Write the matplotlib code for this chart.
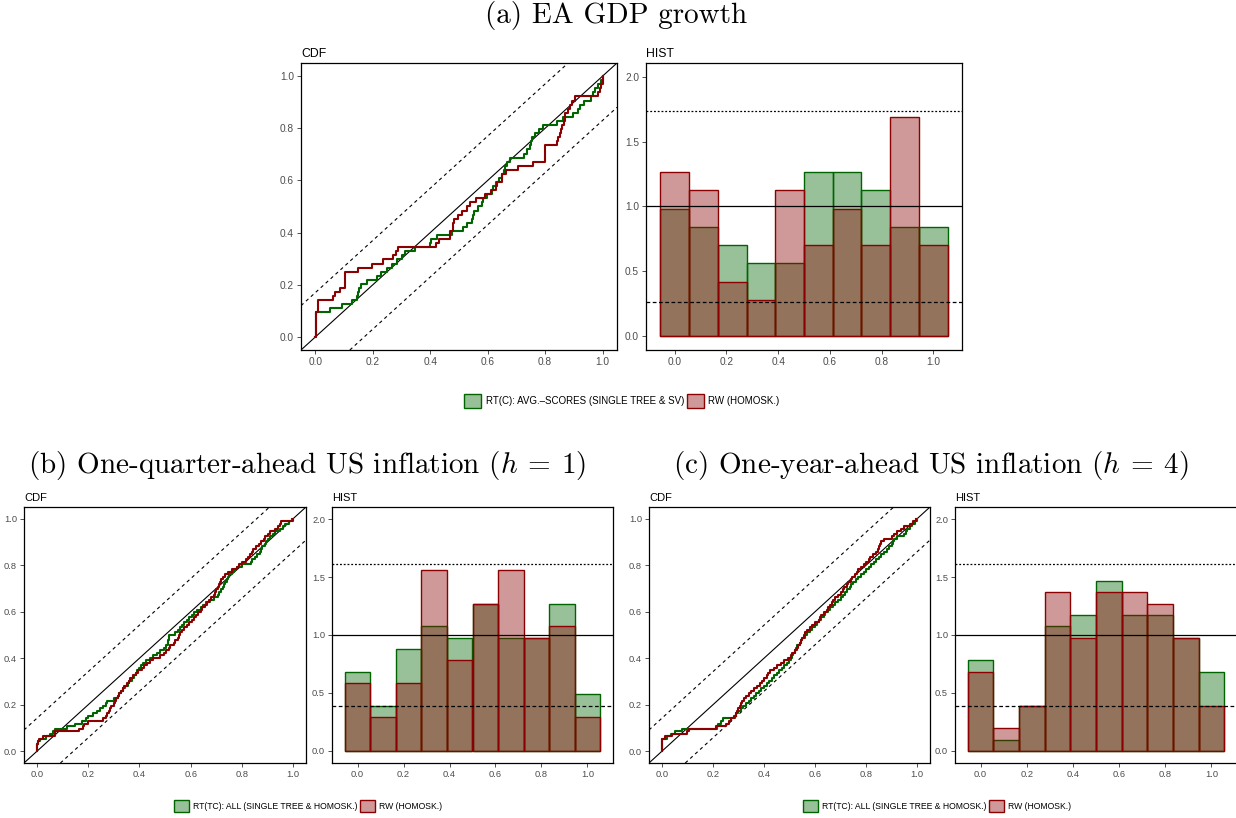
import numpy as np
import matplotlib
matplotlib.use("Agg")
import matplotlib.pyplot as plt
from matplotlib.patches import Patch
from matplotlib.colors import to_rgba

plt.rcParams['font.family'] = ['Liberation Sans', 'DejaVu Sans']
plt.rcParams['mathtext.fontset'] = 'cm'

# PIT values (hist bins agree with them)
ea_rt = [0.002, 0.002, 0.002, 0.002, 0.002, 0.002, 0.052,
         0.093, 0.127, 0.145, 0.148, 0.152, 0.16,
         0.18, 0.214, 0.23, 0.25, 0.266,
         0.283, 0.3, 0.312, 0.347,
         0.399, 0.402, 0.422, 0.475,
         0.515, 0.527, 0.544, 0.55, 0.552, 0.567, 0.58, 0.585, 0.596,
         0.615, 0.62, 0.63, 0.64, 0.648, 0.655, 0.66, 0.667, 0.678,
         0.725, 0.735, 0.746, 0.752, 0.755, 0.764, 0.78, 0.793,
         0.84, 0.862, 0.897, 0.915, 0.922, 0.935,
         0.96, 0.967, 0.975, 0.985, 0.995, 1.0]
ea_rw = [0.001, 0.001, 0.001, 0.001, 0.001, 0.001, 0.008, 0.008, 0.008,
         0.061, 0.07, 0.087, 0.104, 0.104, 0.104, 0.104, 0.147,
         0.197, 0.237, 0.27,
         0.282, 0.288,
         0.42, 0.43, 0.469, 0.47, 0.478, 0.48, 0.482, 0.497,
         0.51, 0.527, 0.54, 0.56, 0.59,
         0.613, 0.63, 0.632, 0.648, 0.65, 0.665, 0.705,
         0.758, 0.8, 0.8, 0.8, 0.8,
         0.84, 0.845, 0.85, 0.855, 0.86, 0.865, 0.868, 0.87, 0.88, 0.885, 0.895, 0.905,
         0.985, 0.99, 0.995, 1.0, 1.0]

us1_rt = [0.001, 0.001, 0.001, 0.005, 0.012, 0.035, 0.05,
          0.065, 0.072, 0.118, 0.15,
          0.175, 0.19, 0.2, 0.22, 0.235, 0.247, 0.26, 0.268, 0.275,
          0.3, 0.318, 0.322, 0.328, 0.335, 0.345, 0.355, 0.36, 0.37, 0.378, 0.385,
          0.392, 0.4, 0.405, 0.415, 0.425, 0.44, 0.455, 0.47, 0.48, 0.495,
          0.505, 0.51, 0.512, 0.514, 0.516, 0.54, 0.55, 0.56, 0.565, 0.575, 0.585, 0.595, 0.605,
          0.615, 0.625, 0.64, 0.65, 0.66, 0.675, 0.69, 0.705, 0.712, 0.718,
          0.725, 0.73, 0.735, 0.74, 0.745, 0.75, 0.76, 0.77, 0.78, 0.8,
          0.835, 0.84, 0.85, 0.86, 0.87, 0.875, 0.88, 0.89, 0.895, 0.9, 0.91, 0.92, 0.93,
          0.95, 0.96, 0.97, 0.985, 0.995]
us1_rw = [0.001, 0.001, 0.001, 0.005, 0.01, 0.025,
          0.07, 0.072, 0.163,
          0.18, 0.185, 0.2, 0.26, 0.27, 0.275,
          0.28, 0.285, 0.29, 0.3, 0.305, 0.31, 0.318, 0.322, 0.33, 0.335, 0.34, 0.35, 0.36, 0.365, 0.375, 0.385,
          0.395, 0.41, 0.42, 0.43, 0.44, 0.455, 0.48, 0.498,
          0.505, 0.515, 0.52, 0.535, 0.54, 0.55, 0.555, 0.56, 0.565, 0.575, 0.585, 0.595, 0.605,
          0.615, 0.622, 0.63, 0.64, 0.645, 0.655, 0.664, 0.67, 0.68, 0.69, 0.695, 0.7, 0.705, 0.71, 0.714, 0.72,
          0.725, 0.735, 0.745, 0.76, 0.78, 0.79, 0.8, 0.815, 0.822, 0.83,
          0.84, 0.845, 0.855, 0.865, 0.875, 0.885, 0.89, 0.9, 0.91, 0.93, 0.94,
          0.95, 0.952, 0.998]

us4_rt = [0.001, 0.001, 0.001, 0.001, 0.001, 0.02, 0.035, 0.05,
          0.08,
          0.215, 0.222, 0.23, 0.24,
          0.285, 0.292, 0.3, 0.31, 0.318, 0.33, 0.34, 0.35, 0.36, 0.37, 0.38,
          0.39, 0.4, 0.41, 0.42, 0.43, 0.44, 0.45, 0.46, 0.47, 0.48, 0.49, 0.498,
          0.505, 0.51, 0.515, 0.52, 0.525, 0.53, 0.54, 0.545, 0.55, 0.56, 0.57, 0.58, 0.59, 0.6, 0.607,
          0.615, 0.625, 0.635, 0.64, 0.65, 0.66, 0.67, 0.68, 0.69, 0.7, 0.71, 0.718,
          0.725, 0.735, 0.74, 0.75, 0.76, 0.77, 0.78, 0.79, 0.8, 0.81, 0.82, 0.83,
          0.84, 0.85, 0.86, 0.87, 0.88, 0.89, 0.9, 0.905, 0.91, 0.92,
          0.95, 0.955, 0.96, 0.97, 0.98, 0.99, 1.0]
us4_rw = [0.001, 0.001, 0.001, 0.001, 0.001, 0.014, 0.04,
          0.1, 0.105,
          0.212, 0.25, 0.262, 0.272,
          0.282, 0.29, 0.295, 0.3, 0.305, 0.31, 0.315, 0.32, 0.33, 0.34, 0.35, 0.36, 0.372, 0.385,
          0.392, 0.4, 0.41, 0.415, 0.425, 0.44, 0.45, 0.465, 0.48, 0.495,
          0.505, 0.51, 0.52, 0.53, 0.535, 0.54, 0.545, 0.55, 0.555, 0.56, 0.57, 0.58, 0.59, 0.6,
          0.615, 0.62, 0.625, 0.635, 0.645, 0.65, 0.66, 0.665, 0.67, 0.68, 0.69, 0.7, 0.71, 0.715,
          0.725, 0.73, 0.74, 0.745, 0.755, 0.765, 0.77, 0.78, 0.79, 0.8, 0.81, 0.815, 0.825,
          0.84, 0.845, 0.85, 0.855, 0.86, 0.87, 0.9, 0.91, 0.92, 0.935,
          0.95, 0.97, 0.985, 0.995]

# KS band half-width for the CDF, lower/upper band for the histogram
ea_ks = 0.17
ea_hist_band = [0.263, 1.736]
us_ks = 0.142
us_hist_band = [0.386, 1.611]

titles = ["(a) EA GDP growth",
          r"(b) One-quarter-ahead US inflation ($h\:=\:1$)",
          r"(c) One-year-ahead US inflation ($h\:=\:4$)"]
label_rt_ea = "RT(C): AVG.\u2013SCORES (SINGLE TREE & SV)"
label_rt_us = "RT(TC): ALL (SINGLE TREE & HOMOSK.)"
label_rw = "RW (HOMOSK.)"

GREEN = "darkgreen"
RED = "darkred"
W, H = 1236, 818


def px_axes(fig, left, top, right, bottom):
    return fig.add_axes([left / W, 1 - bottom / H, (right - left) / W, (bottom - top) / H])


def style(ax, fs_tick, fs_title, title):
    for s in ax.spines.values():
        s.set_linewidth(0.9)
        s.set_color("black")
    ax.tick_params(length=3, width=0.6, color="#333333", labelcolor="#4d4d4d",
                   labelsize=fs_tick, pad=2)
    ax.set_title(title, loc="left", fontsize=fs_title, pad=4)


def plot_cdf(ax, rt, rw, ks, fs_tick, fs_title):
    ax.axline((0, 0), slope=1, color="black", lw=0.8)
    ax.axline((0, ks), slope=1, color="black", lw=0.8, ls=(0, (3, 3)))
    ax.axline((0, -ks), slope=1, color="black", lw=0.8, ls=(0, (3, 3)))
    for vals, col in [(rt, GREEN), (rw, RED)]:
        v = np.sort(vals)
        x = np.concatenate([[0], v])
        y = np.arange(len(v) + 1) / len(v)
        ax.plot(x, y, drawstyle="steps-post", color=col, lw=1.5)
    ax.set_xlim(-0.05, 1.05)
    ax.set_ylim(-0.05, 1.05)
    ticks = [0, 0.2, 0.4, 0.6, 0.8, 1.0]
    ax.set_xticks(ticks)
    ax.set_yticks(ticks)
    ax.set_xticklabels(["%.1f" % t for t in ticks])
    ax.set_yticklabels(["%.1f" % t for t in ticks])
    style(ax, fs_tick, fs_title, "CDF")


def plot_hist(ax, rt, rw, band, fs_tick, fs_title):
    edges = (np.arange(11) - 0.5) / 9
    ax.hist(rt, bins=edges, density=True, facecolor=to_rgba(GREEN, 0.4),
            edgecolor=GREEN, linewidth=1.0)
    ax.hist(rw, bins=edges, density=True, facecolor=to_rgba(RED, 0.4),
            edgecolor=RED, linewidth=1.0)
    ax.axhline(1.0, color="black", lw=0.9)
    ax.axhline(band[1], color="black", lw=0.9, ls=(0, (1.5, 1.5)))
    ax.axhline(band[0], color="black", lw=0.9, ls=(0, (3, 2)))
    ax.set_xlim(-1 / 9, 1 + 1 / 9)
    ax.set_ylim(-0.105, 2.105)
    xt = [0, 0.2, 0.4, 0.6, 0.8, 1.0]
    yt = [0, 0.5, 1.0, 1.5, 2.0]
    ax.set_xticks(xt)
    ax.set_yticks(yt)
    ax.set_xticklabels(["%.1f" % t for t in xt])
    ax.set_yticklabels(["%.1f" % t for t in yt])
    style(ax, fs_tick, fs_title, "HIST")


def add_legend(fig, rt_label, x, y, fs):
    handles = [Patch(facecolor=to_rgba(GREEN, 0.4), edgecolor=GREEN, lw=1.0, label=rt_label),
               Patch(facecolor=to_rgba(RED, 0.4), edgecolor=RED, lw=1.0, label=label_rw)]
    fig.legend(handles=handles, loc="center", bbox_to_anchor=(x / W, 1 - y / H), ncol=2,
               frameon=False, fontsize=fs, handlelength=1.7, handleheight=1.8,
               handletextpad=0.5, columnspacing=0.3, borderpad=0)


fig = plt.figure(figsize=(W / 100, H / 100), dpi=100)

ax = px_axes(fig, 301, 63, 617, 350)
plot_cdf(ax, ea_rt, ea_rw, ea_ks, 7.3, 8.8)
ax = px_axes(fig, 646, 63, 962, 350)
plot_hist(ax, ea_rt, ea_rw, ea_hist_band, 7.3, 8.8)
add_legend(fig, label_rt_ea, 622, 401, 7)

ax = px_axes(fig, 24, 507, 306, 763)
plot_cdf(ax, us1_rt, us1_rw, us_ks, 6.7, 8)
ax = px_axes(fig, 332, 507, 613, 763)
plot_hist(ax, us1_rt, us1_rw, us_hist_band, 6.7, 8)
add_legend(fig, label_rt_us, 308, 806, 6.2)

ax = px_axes(fig, 649, 507, 930, 763)
plot_cdf(ax, us4_rt, us4_rw, us_ks, 6.7, 8)
ax = px_axes(fig, 955, 507, 1237, 763)
plot_hist(ax, us4_rt, us4_rw, us_hist_band, 6.7, 8)
add_legend(fig, label_rt_us, 937, 806, 6.2)

tfont = dict(fontfamily="cmr10", fontsize=21, ha="center", va="center")
fig.text(616 / W, 1 - 16 / H, titles[0], **tfont)
fig.text(307 / W, 1 - 466 / H, titles[1], **tfont)
fig.text(931 / W, 1 - 466 / H, titles[2], **tfont)

fig.savefig("out.png", dpi=100)
